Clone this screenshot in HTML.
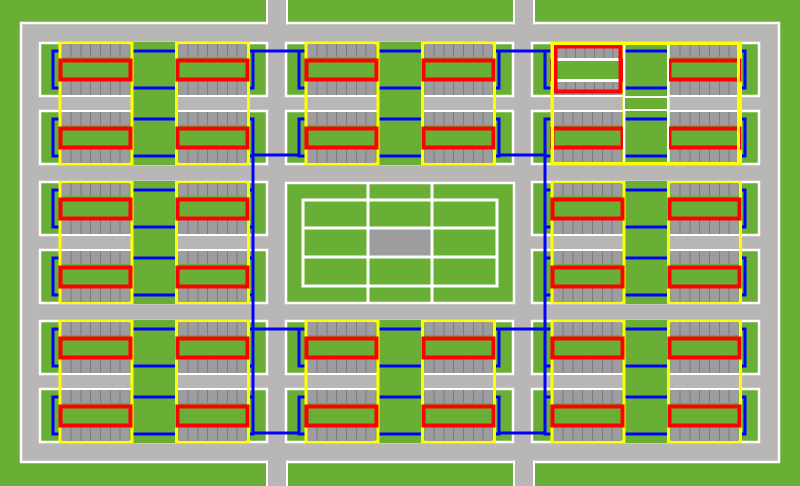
<!DOCTYPE html>
<html><head><meta charset="utf-8"><style>html,body{margin:0;padding:0;background:#6aaf35}svg{display:block}</style></head>
<body>
<svg width="800" height="486" viewBox="0 0 800 486" xmlns="http://www.w3.org/2000/svg">
<defs>
<g id="unit">
 <rect x="2.5" y="2" width="68" height="13" fill="#9d9d9f"/>
 <rect x="2.5" y="39" width="68" height="14" fill="#9d9d9f"/>
 <path d="M12,2V15M22,2V15M31.5,2V15M41.5,2V15M51.5,2V15M61,2V15M12,39V53M22,39V53M31.5,39V53M41.5,39V53M51.5,39V53M61,39V53" stroke="#7c7c7e" stroke-width="1"/>
 <rect x="1.5" y="18.5" width="70" height="19" fill="#6aaf35" stroke="#ff0000" stroke-width="4"/>
</g>
<g id="lotbase">
 <rect x="1" y="1" width="227" height="53" fill="#6aaf35" stroke="#fff" stroke-width="2.5"/>
</g>
<g id="grp">
 <use href="#lotbase" x="0" y="0"/>
 <use href="#lotbase" x="0" y="68"/>
 <rect x="93" y="0" width="44" height="123" fill="#6aaf35"/>
 <rect x="20" y="55" width="73" height="13" fill="#b8b7b5"/>
 <rect x="137" y="55" width="73" height="13" fill="#b8b7b5"/>
 <g fill="none" stroke="#0000ff" stroke-width="3">
  <path d="M20,9H14V46H20M93,9H137M93,46H137M210,9H214V46H210"/>
  <path d="M20,77H14V114H20M93,77H137M93,114H137M210,77H214V114H210"/>
 </g>
 <rect x="21" y="1.5" width="72" height="120" fill="none" stroke="#ffff00" stroke-width="3"/>
 <rect x="137.5" y="1.5" width="72" height="120" fill="none" stroke="#ffff00" stroke-width="3"/>
 <use href="#unit" x="20" y="0"/>
 <use href="#unit" x="137" y="0"/>
 <use href="#unit" x="20" y="68"/>
 <use href="#unit" x="137" y="68"/>
</g>
</defs>
<rect x="0" y="0" width="800" height="486" fill="#6aaf35"/>
<rect x="21" y="23" width="758" height="439" fill="#b8b7b5" stroke="#fff" stroke-width="2.5"/>
<rect x="266" y="0" width="22" height="486" fill="#fff"/>
<rect x="268" y="0" width="18" height="486" fill="#b8b7b5"/>
<rect x="513" y="0" width="22" height="486" fill="#fff"/>
<rect x="515" y="0" width="18" height="486" fill="#b8b7b5"/>
<rect x="22.5" y="24.5" width="755" height="436" fill="#b8b7b5"/>

<use href="#grp" x="39" y="42"/>
<use href="#grp" x="285" y="42"/>
<use href="#grp" x="531" y="42"/>
<use href="#grp" x="39" y="181"/>
<use href="#grp" x="531" y="181"/>
<use href="#grp" x="39" y="320"/>
<use href="#grp" x="285" y="320"/>
<use href="#grp" x="531" y="320"/>

<!-- top-right variant tweaks -->
<rect x="555" y="46" width="66" height="46" fill="#6aaf35"/>
<rect x="557" y="48" width="62" height="10" fill="#9d9d9f"/>
<rect x="557" y="81" width="62" height="10" fill="#9d9d9f"/>
<path d="M566,48V58M575.5,48V58M585,48V58M594.5,48V58M604,48V58M613,48V58M566,81V91M575.5,81V91M585,81V91M594.5,81V91M604,81V91M613,81V91" stroke="#7c7c7e" stroke-width="1"/>
<rect x="555" y="58" width="65" height="3" fill="#fff"/>
<rect x="555" y="79" width="65" height="3" fill="#fff"/>
<rect x="555.5" y="46.5" width="65" height="45" fill="none" stroke="#ff0000" stroke-width="4"/>
<rect x="625" y="97" width="42" height="13" fill="#6aaf35"/>
<path d="M624,45V162M668,45V162M624,97H668M624,110H668" stroke="#fff" stroke-width="2"/>
<rect x="552.5" y="43.5" width="186" height="120" fill="none" stroke="#ffff00" stroke-width="3"/>

<!-- center field -->
<rect x="286" y="183" width="228" height="120" fill="#6aaf35" stroke="#fff" stroke-width="2.5"/>
<rect x="303" y="200" width="194" height="86" fill="none" stroke="#fff" stroke-width="3"/>
<rect x="369" y="229" width="62" height="27" fill="#9d9d9f"/>
<path d="M368,184V302M432,184V302M303,228H497M303,257H497" stroke="#fff" stroke-width="3"/>

<!-- trunk lines -->
<g fill="none" stroke="#0000ff" stroke-width="3">
 <path d="M253,51H299M499,51H545"/>
 <path d="M253,155H299M499,155H545"/>
 <path d="M253,155V433M545,155V433"/>
 <path d="M253,329H299M499,329H545"/>
 <path d="M253,433H299M499,433H545"/>
</g>
</svg>
</body></html>
